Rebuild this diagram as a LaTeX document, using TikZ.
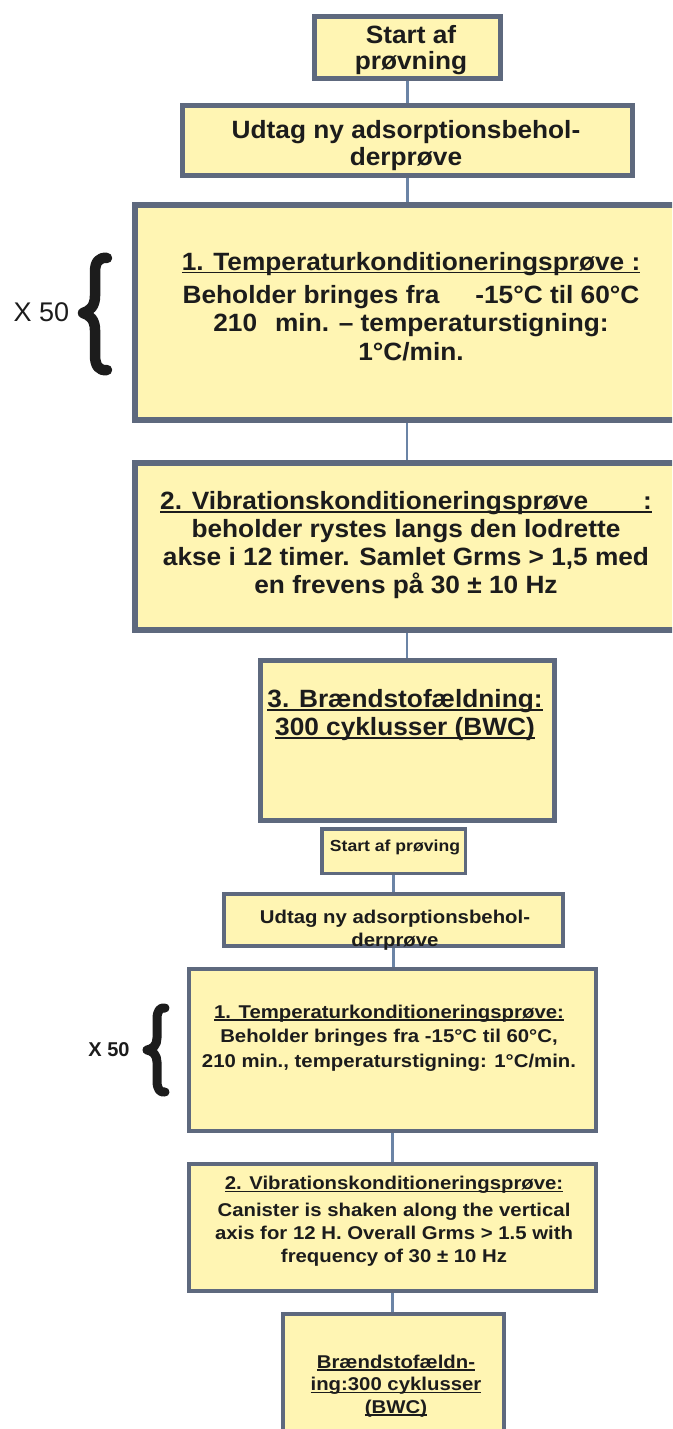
\documentclass[tikz,border=0pt]{standalone}
\usepackage{fontspec}
\setmainfont{Liberation Sans}
\newfontfamily\topfont{Liberation Sans Bold}[FakeStretch=1.05]
\newfontfamily\botfont{Liberation Sans Bold}[FakeStretch=1.1]
\newfontfamily\xfont{Liberation Sans}
\newfontfamily\xbfont{Liberation Sans Bold}
\usetikzlibrary{backgrounds}
\definecolor{boxline}{HTML}{5E697E}
\definecolor{boxfill}{HTML}{FFF5B3}
\definecolor{connc}{HTML}{6B84A6}
\definecolor{ink}{HTML}{1C1C1C}
\newsavebox\ulbox
\newcommand\ulx[1]{\sbox\ulbox{#1}\rlap{\rule[-0.13em]{\wd\ulbox}{0.065em}}\usebox\ulbox}
\tikzset{
  box/.style={draw=boxline, fill=boxfill, inner sep=0pt, outer sep=0pt},
  ttext/.style={align=center, inner sep=0pt, text=ink, anchor=north},
  conn/.style={draw=connc, line width=2.2pt},
  connb/.style={draw=connc, line width=2.8pt},
  bracepath/.style={draw=ink, line cap=round, line join=round},
}
\begin{document}
\begin{tikzpicture}[x=1pt,y=-1pt]
\useasboundingbox (0,0) rectangle (672,1429);
\begin{scope}
\clip (0,0) rectangle (672,1429);
% ---------- upper flow ----------
\node[box, line width=5pt, minimum width=186pt, minimum height=62pt] (A) at (407.5,47.5) {};
\node[ttext, font=\topfont\fontsize{25}{28}\selectfont] (At) at (411,24.8) {Start af\\[-2pt]prøvning};

\node[box, line width=5pt, minimum width=450pt, minimum height=70pt] (B) at (407.5,140.5) {};
\node[ttext, font=\topfont\fontsize{25}{28}\selectfont] (Bt) at (406,119.8) {Udtag ny adsorptionsbehol-\\[-1pt]derprøve};

\node[box, line width=6pt, minimum width=544pt, minimum height=215pt] (C) at (407,312.5) {};
\node[ttext, font=\topfont\fontsize{25}{28.5}\selectfont] (Ct) at (411,251.8)
  {\ulx{1. Temperaturkonditioneringsprøve :}\\[4.5pt]
   Beholder bringes fra\hspace{36pt}-15°C til 60°C\\
   210\hspace{18pt}min. – temperaturstigning:\\
   1°C/min.};

\node[box, line width=6pt, minimum width=544pt, minimum height=167pt] (D) at (407,546.5) {};
\node[ttext, font=\topfont\fontsize{25}{28}\selectfont] (Dt) at (406,491)
  {\ulx{2. Vibrationskonditioneringsprøve\hspace{55pt}:}\\
   beholder rystes langs den lodrette\\
   akse i 12 timer. Samlet Grms > 1,5 med\\
   en frevens på 30 ± 10 Hz};

\node[box, line width=5pt, minimum width=294pt, minimum height=160pt] (E) at (407.5,740.5) {};
\node[ttext, font=\topfont\fontsize{25}{28}\selectfont] (Et) at (405,689)
  {\ulx{3. Brændstofældning:}\\ \ulx{300 cyklusser (BWC)}};

% ---------- lower flow ----------
\node[box, line width=3.5pt, minimum width=143.5pt, minimum height=44.5pt] (F) at (393.5,851) {};
\node[ttext, font=\botfont\fontsize{16}{19}\selectfont] (Ft) at (395,839.3) {Start af prøving};

\node[box, line width=4pt, minimum width=339pt, minimum height=52pt] (G) at (393.5,920) {};
\node[ttext, font=\botfont\fontsize{18.5}{23}\selectfont] (Gt) at (395,910) {Udtag ny adsorptionsbehol-\\derprøve};

\node[box, line width=4pt, minimum width=407pt, minimum height=162pt] (H) at (392.5,1050) {};
\node[ttext, font=\botfont\fontsize{18.5}{24.5}\selectfont] (Ht) at (389,1004.5)
  {\ulx{1. Temperaturkonditioneringsprøve:}\\
   Beholder bringes fra -15°C til 60°C,\\
   210 min., temperaturstigning: 1°C/min.};

\node[box, line width=4pt, minimum width=407pt, minimum height=127pt] (I) at (392.5,1227.5) {};
\node[ttext, font=\botfont\fontsize{18.5}{23}\selectfont] (It) at (394,1176)
  {\ulx{2. Vibrationskonditioneringsprøve:}\\[4pt]
   Canister is shaken along the vertical\\
   axis for 12 H. Overall Grms > 1.5 with\\
   frequency of 30 ± 10 Hz};

\node[box, line width=4pt, minimum width=221pt, minimum height=124pt] (J) at (393.5,1376) {};
\node[ttext, font=\botfont\fontsize{18.5}{22.5}\selectfont] (Jt) at (396,1354.5)
  {\ulx{Brændstofældn-}\\ \ulx{ing:300 cyklusser}\\ \ulx{(BWC)}};

% ---------- repeat markers ----------
\node[inner sep=0pt, text=ink, font=\xfont\fontsize{27}{30}\selectfont] (Xa) at (41.5,312) {X 50};
\draw[bracepath, line width=10.5pt]
  (107,258) .. controls (99,257) and (95,262) .. (95,272) -- (95,296)
  .. controls (95,306) and (90,311) .. (83,313)
  .. controls (90,315) and (95,320) .. (95,330) -- (95,355)
  .. controls (95,366) and (99,371) .. (107,370);

\node[inner sep=0pt, text=ink, font=\xbfont\fontsize{20}{22}\selectfont] (Xb) at (109,1050) {X 50};
\draw[bracepath, line width=9pt]
  (165,1008) .. controls (160,1007) and (157,1011) .. (157,1019) -- (157,1038)
  .. controls (157,1045) and (153,1049) .. (147,1050)
  .. controls (153,1051) and (157,1055) .. (157,1062) -- (157,1081)
  .. controls (157,1089) and (160,1093) .. (165,1092);
\end{scope}

% ---------- connectors ----------
\begin{scope}[on background layer]
\draw[conn] (A) -- (A |- B);
\draw[conn] (B) -- (B |- C);
\draw[conn] (C) -- (C |- D);
\draw[conn] (D) -- (D |- E);
\draw[connb] (F) -- (F |- G);
\draw[connb] (G) -- (G |- H);
\draw[connb] (H) -- (H |- I);
\draw[connb] (I) -- (I |- J);
\end{scope}
\end{tikzpicture}
\end{document}
